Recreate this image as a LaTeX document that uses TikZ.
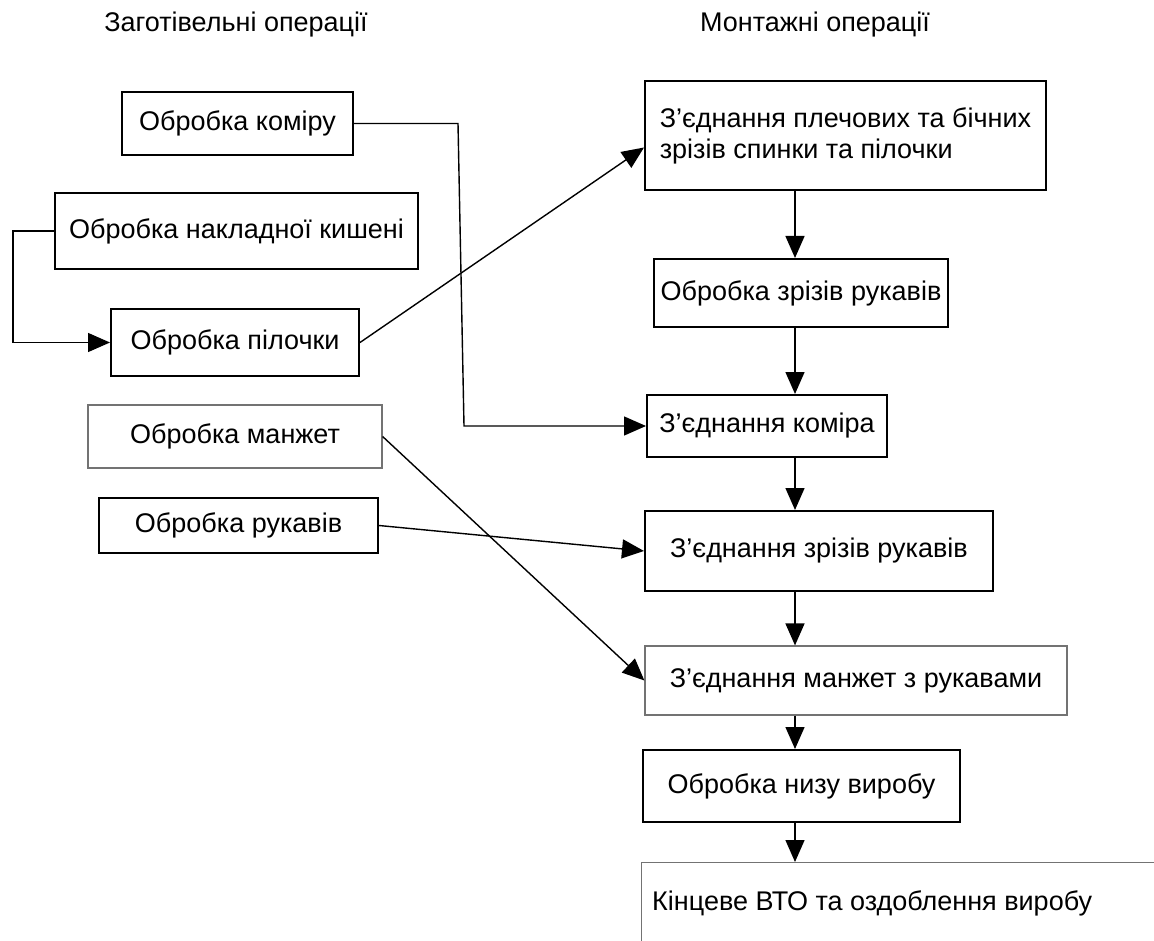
\documentclass[tikz,border=0pt]{standalone}
\usepackage{fontspec}
\setmainfont{Liberation Sans}
\usetikzlibrary{arrows.meta}
\tikzset{>={Triangle[length=22pt,width=19pt]}}

\begin{document}
\begin{tikzpicture}[x=1pt,y=-1pt,
		font=\fontsize{27}{31}\selectfont,
		opbox/.style={draw, line width=2pt, inner sep=0pt},
		thinbox/.style={draw=black!55, line width=1.2pt, inner sep=0pt},
		link/.style={->, line width=1.4pt}]
		\useasboundingbox (0,0) rectangle (1154,941);
		% headings
		\node (prephead) at (236,25) {Заготівельні операції};
		\node (asmhead) at (815,25) {Монтажні операції};
		% preparatory operations
		\node[opbox, minimum width=231, minimum height=63] (collar) at (237.5,123.5) {Обробка коміру};
		\node[opbox, minimum width=363, minimum height=76] (pocket) at (236.5,231) {Обробка накладної кишені};
		\node[opbox, minimum width=248, minimum height=67] (front) at (235,342.5) {Обробка пілочки};
		\node[thinbox, minimum width=294, minimum height=63] (cuffs) at (235,436.5) {Обробка манжет};
		\node[opbox, minimum width=279, minimum height=55] (sleeves) at (238.5,525.5) {Обробка рукавів};
		% assembly operations
		\node[opbox, minimum width=401, minimum height=109, align=left] (shoulder) at (845.5,135.5) {З'єднання плечових та бічних\\зрізів спинки та пілочки};
		\node[opbox, minimum width=294, minimum height=68] (sleevecut) at (801,293) {Обробка зрізів рукавів};
		\node[opbox, minimum width=240, minimum height=62] (joincollar) at (767,426) {З’єднання коміра};
		\node[opbox, minimum width=348, minimum height=80] (joinsleeve) at (819,551) {З’єднання зрізів рукавів};
		\node[thinbox, minimum width=422, minimum height=69] (joincuffs) at (856,680.5) {З’єднання манжет з рукавами};
		\node[opbox, minimum width=317, minimum height=72] (hem) at (801.5,786) {Обробка низу виробу};
		\node[thinbox, anchor=north west, minimum width=600, minimum height=150] (final) at (641,862) {};
		\node[anchor=west, inner sep=0pt] (finaltext) at (652,903) {Кінцеве ВТО та оздоблення виробу};
		% connectors
		\coordinate (spine) at (795,0);
		\coordinate (kneeA) at (458,123.5);
		\coordinate (kneeB) at (464,426);
		\draw[link] (collar.east) -- (kneeA) -- (kneeB) -- (joincollar.west);
		\draw[link] (pocket.west) -- ++(-41,0) |- (front.west);
		\draw[link] (front.east) -- ([yshift=-12pt]shoulder.west);
		\draw[link] (sleeves.east) -- (joinsleeve.west);
		\draw[link] (cuffs.east) -- (joincuffs.west);
		\path[link]
			(shoulder.south -| spine) edge (sleevecut.north -| spine)
			(sleevecut.south -| spine) edge (joincollar.north -| spine)
			(joincollar.south -| spine) edge (joinsleeve.north -| spine)
			(joinsleeve.south -| spine) edge (joincuffs.north -| spine)
			(joincuffs.south -| spine) edge (hem.north -| spine)
			(hem.south -| spine) edge (final.north -| spine);
\end{tikzpicture}
\end{document}
